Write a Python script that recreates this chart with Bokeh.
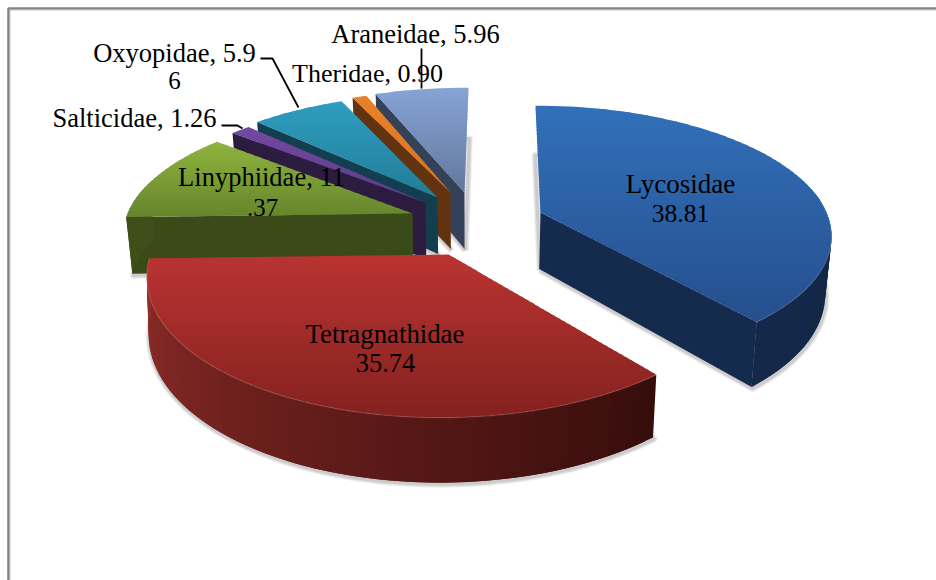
import math

from bokeh.core.properties import value
from bokeh.embed import file_html
from bokeh.models import ColumnDataSource, Range1d
from bokeh.plotting import figure
from bokeh.resources import INLINE

# Share of each spider family, clockwise from twelve o'clock
FAMILIES = ["Lycosidae", "Tetragnathidae", "Linyphiidae", "Salticidae",
            "Oxyopidae", "Theridae", "Araneidae"]
SHARES = [38.81, 35.74, 11.37, 1.26, 5.96, 0.90, 5.96]

# Value labels as they wrap on the page
LABEL_TEXTS = ["Lycosidae", "38.81", "Tetragnathidae", "35.74", "Linyphiidae, 11", ".37",
               "Oxyopidae, 5.9", "6", "Salticidae, 1.26", "Theridae, 0.90", "Araneidae, 5.96"]
LABEL_X = [680, 680, 384.5, 385, 261, 262, 174, 174, 134, 367, 415]
LABEL_Y = [183, 213, 333, 362, 176, 207, 52, 80, 117, 73, 33]
LABEL_SIZES = ["27px", "25.5px", "26.8px", "26.5px", "26.5px", "25px",
               "26.5px", "25px", "26.5px", "26px", "26.5px"]

# Exploded tip of each wedge on the page, and how its disc is projected:
# horizontal radius, depth radius, perspective strength, lean of the far rim
TIP_X = [540, 448, 412, 425, 437, 450, 464]
TIP_Y = [212, 254, 213, 202, 197, 192, 192]
RADIUS_X = [286, 298, 285, 285, 285, 285, 285]
RADIUS_Y = [125, 142, 123, 119, 119, 117, 119]
PERSPECTIVE = [0.17, 0.13, 0.135, 0.135, 0.135, 0.135, 0.135]
LEAN = [-5, 8, 12, 16, 11, 9, 4]
WALL_HEIGHT = 56.5
WALL_CONVERGENCE = [0.018, 0.01, 0.018, 0.018, 0.018, 0.018, 0.018]
VANISH_X = [470, 330, 470, 470, 470, 470, 470]

# Colours per wedge: top surface (far, near), flat wall, rim (start, end)
TOP_FAR = ["#3271BA", "#BA3431", "#8FB43E", "#7449A2", "#2F9EC0", "#E8812A", "#87A4D6"]
TOP_NEAR = ["#254E8C", "#84211F", "#66852C", "#5C3A84", "#227C98", "#D9751F", "#62789C"]
WALL = ["#152B4D", "#3A0F0C", "#3A4A18", "#2C1C40", "#123E50", "#63330F", "#344259"]
RIM_START = ["#0F1F38", "#360D0B", "#3E4F1A", "#2C1C40", "#123E50", "#63330F", "#344259"]
RIM_END = ["#14294A", "#922D2A", "#3E4F1A", "#2C1C40", "#123E50", "#63330F", "#344259"]

# Back-to-front drawing order
DRAW_ORDER = [6, 5, 4, 3, 2, 0, 1]

# Leader lines for the labels outside the wedges
LEADER_XS = [[260, 272, 298], [221, 237, 242], [421, 421]]
LEADER_YS = [[58, 58, 107], [125, 125, 128], [48, 88]]

FRAME_COLOR = "#858585"
WIDTH, HEIGHT = 936, 580


def hex_mix(a, b, t):
    ca = [int(a[i:i + 2], 16) for i in (1, 3, 5)]
    cb = [int(b[i:i + 2], 16) for i in (1, 3, 5)]
    return "#%02x%02x%02x" % tuple(round(x + (y - x) * t) for x, y in zip(ca, cb))


def project(i, theta, radius=1.0):
    """Point of wedge i's top disc at a clockwise angle from twelve o'clock."""
    u = radius * math.sin(theta)
    v = radius * math.cos(theta)
    den = 1 + PERSPECTIVE[i] * v
    return (TIP_X[i] + RADIUS_X[i] * u / den + LEAN[i] * v,
            TIP_Y[i] - RADIUS_Y[i] * v / den)


def drop(i, theta, radius=1.0):
    """Matching point on the underside of wedge i."""
    x, y = project(i, theta, radius)
    den = 1 + PERSPECTIVE[i] * radius * math.cos(theta)
    return x + WALL_CONVERGENCE[i] * (VANISH_X[i] - x), y + WALL_HEIGHT / den


def clip_band(poly, y0, y1):
    """Cut a polygon down to the horizontal band between y0 and y1."""
    def clip(points, inside, limit):
        out = []
        for k, (x, y) in enumerate(points):
            px, py = points[k - 1]
            if inside(y) != inside(py):
                t = (limit - py) / (y - py)
                out.append((px + (x - px) * t, limit))
            if inside(y):
                out.append((x, y))
        return out
    part = clip(poly, lambda y: y >= y0, y0)
    return clip(part, lambda y: y <= y1, y1) if part else part


p = figure(width=WIDTH, height=HEIGHT, output_backend="svg", toolbar_location=None,
           x_range=Range1d(0, WIDTH), y_range=Range1d(HEIGHT, 0),
           x_axis_location=None, y_axis_location=None, min_border=0,
           outline_line_color=None, background_fill_color="#FFFFFF",
           border_fill_color="#FFFFFF")
p.xgrid.visible = False
p.ygrid.visible = False

# Page frame: only the top and left rules are on the page
p.line([8, 8, WIDTH], [HEIGHT, 8, 8], line_color=FRAME_COLOR, line_width=2.6)
p.line([9.6, 9.6, WIDTH], [HEIGHT, 9.6, 9.6], line_color="#C8C8C8", line_width=0.8)

# Wedge angles come straight from the shares
total = sum(SHARES)
starts, ends = [], []
angle = 0.0
for share in SHARES:
    starts.append(angle)
    angle += 2 * math.pi * share / total
    ends.append(angle)


def add_patch(bucket, points, color):
    bucket["xs"].append([q[0] for q in points])
    bucket["ys"].append([q[1] for q in points])
    bucket["fill"].append(color)


for i in DRAW_ORDER:
    a0, a1 = starts[i], ends[i]
    steps = max(2, int(math.degrees(a1 - a0) / 2))
    angles = [a0 + (a1 - a0) * s / steps for s in range(steps + 1)]

    # Soft ground shadow around the underside
    under = [drop(i, 0, 0)] + [drop(i, a) for a in angles] + [drop(i, 0, 0)]
    for w in (7, 5, 3):
        p.line([q[0] + 0.8 for q in under], [q[1] + 1.5 for q in under],
               line_color="#000000", line_alpha=0.07, line_width=w, line_join="round")

    bucket = {"xs": [], "ys": [], "fill": []}

    # Flat walls that face the viewer
    tip_top, tip_low = project(i, 0, 0), drop(i, 0, 0)
    if a0 > math.pi:
        add_patch(bucket, [tip_top, project(i, a0), drop(i, a0), tip_low], WALL[i])
    if a1 < math.pi:
        add_patch(bucket, [tip_top, project(i, a1), drop(i, a1), tip_low], WALL[i])

    # Curved rim on the near side, shaded along its sweep; each strip runs
    # under the next so no seams show through
    for s in range(steps):
        if math.cos(angles[s]) > 0.2:
            continue
        far = angles[min(s + 2, steps)]
        color = hex_mix(RIM_START[i], RIM_END[i], (s + 0.5) / steps)
        add_patch(bucket, [project(i, angles[s]), project(i, far),
                           drop(i, far), drop(i, angles[s])], color)

    # Top surface, shaded from far to near in horizontal bands that overlap
    top = [tip_top] + [project(i, a) for a in angles]
    y_min = min(q[1] for q in top)
    y_max = max(q[1] for q in top)
    n_bands = max(4, int((y_max - y_min) / 3))
    for b in range(n_bands):
        y0 = y_min + (y_max - y_min) * b / n_bands
        y1 = y_min + (y_max - y_min) * (b + 1) / n_bands + 1.5
        part = clip_band(top, y0, y1)
        if len(part) >= 3:
            add_patch(bucket, part, hex_mix(TOP_FAR[i], TOP_NEAR[i], (b + 0.5) / n_bands))

    p.patches(xs="xs", ys="ys", source=ColumnDataSource(bucket), fill_color="fill",
              line_color=None)

    # Light bevel where the top meets the rim
    bevel = [project(i, a) for a in angles if math.cos(a) < 0.1]
    if len(bevel) > 1:
        p.line([q[0] for q in bevel], [q[1] for q in bevel], line_color="#FFFFFF",
               line_alpha=0.14, line_width=1.3)

p.multi_line(LEADER_XS, LEADER_YS, line_color="#000000", line_width=1.8)

labels = ColumnDataSource(dict(x=LABEL_X, y=LABEL_Y, text=LABEL_TEXTS, size=LABEL_SIZES))
p.text(x="x", y="y", text="text", source=labels, text_font=value("Liberation Serif"),
       text_font_size="size", text_color="#000000", text_align="center",
       text_baseline="middle")

open("out.html", "w").write(file_html(p, INLINE))
